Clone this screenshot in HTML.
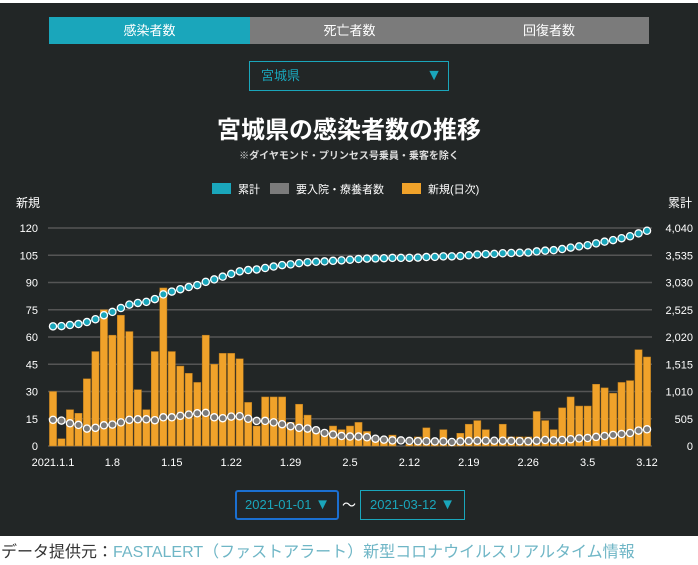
<!DOCTYPE html>
<html><head><meta charset="utf-8">
<style>
body{margin:0;width:698px;height:565px;background:#fff;font-family:"Liberation Sans","Noto Sans CJK JP",sans-serif;overflow:hidden;position:relative}
#panel{position:absolute;left:0;top:3px;width:698px;height:533px;background:#222626}
.tab{position:absolute;top:17px;height:27px;line-height:27px;text-align:center;color:#fff;font-size:13px}
.sel{position:absolute;border:1px solid #1aa6bb;color:#1aa6bb;box-sizing:border-box}
#footer{position:absolute;left:1px;top:538px;font-size:16px;color:#333;white-space:nowrap}
#footer a{color:#6fb6c6;text-decoration:none}
</style></head><body>
<div id="panel"></div>
<div class="tab" style="left:49px;width:201px;background:#1aa6bb">感染者数</div>
<div class="tab" style="left:250px;width:199px;background:#7b7b7b">死亡者数</div>
<div class="tab" style="left:449px;width:200px;background:#7b7b7b">回復者数</div>
<div class="sel" style="left:249px;top:61px;width:200px;height:30px;font-size:13px;line-height:28px;padding-left:11px">宮城県<span style="position:absolute;right:6px;top:0;font-size:16px">▼</span></div>
<div style="position:absolute;left:0;width:698px;top:110px;text-align:center;color:#fff;font-weight:bold;font-size:24px">宮城県の感染者数の推移</div>
<div style="position:absolute;left:0;width:698px;top:147px;text-align:center;color:#ddd;font-weight:bold;font-size:10px">※ダイヤモンド・プリンセス号乗員・乗客を除く</div>
<svg id="chart" width="698" height="480" style="position:absolute;left:0;top:0" font-family="Liberation Sans, Noto Sans CJK JP, sans-serif"></svg>
<div class="sel" style="left:235px;top:490px;width:104px;height:30px;border:2px solid #1b6fd0;border-radius:3px;font-size:13px;line-height:26px;padding-left:8px">2021-01-01 <span style="font-size:15px">▼</span></div>
<div style="position:absolute;left:342px;top:495px;color:#fff;font-size:14px">〜</div>
<div class="sel" style="left:360px;top:490px;width:105px;height:30px;font-size:13px;line-height:28px;padding-left:9px">2021-03-12 <span style="font-size:15px">▼</span></div>
<div id="footer">データ提供元：<a>FASTALERT（ファストアラート）新型コロナウイルスリアルタイム情報</a></div>
<script>
const newCases=[30,4,20,18,37,52,75,61,72,63,31,20,52,87,52,44,40,35,61,45,51,51,48,24,11,27,27,27,13,23,17,8,7,11,9,11,13,8,3,4,6,0,1,5,10,3,9,1,7,12,14,9,3,12,5,5,5,19,14,9,21,27,22,22,34,32,29,35,36,53,49];
const cumBase=2188;
const hospitalized=[485,471,421,391,323,337,384,397,438,485,495,495,478,532,532,559,582,606,613,532,515,545,552,505,465,465,438,404,367,337,323,293,242,212,185,175,175,162,135,118,104,104,94,88,88,85,85,74,85,94,98,98,98,98,94,88,88,98,111,104,111,125,141,148,168,185,205,222,242,286,310];
const leftTicks=[0,15,30,45,60,75,90,105,120];
const rightTicks=["0","505","1,010","1,515","2,020","2,525","3,030","3,535","4,040"];
const xLabels=[[0,"2021.1.1"],[7,"1.8"],[14,"1.15"],[21,"1.22"],[28,"1.29"],[35,"2.5"],[42,"2.12"],[49,"2.19"],[56,"2.26"],[63,"3.5"],[70,"3.12"]];
const svg=document.getElementById('chart');const NS="http://www.w3.org/2000/svg";
function mk(t,a,p){const e=document.createElementNS(NS,t);for(const k in a)e.setAttribute(k,a[k]);(p||svg).appendChild(e);return e;}
const x0=53,dx=8.486,yb=446,yt=228;
const xs=i=>x0+i*dx, yl=v=>yb-(yb-yt)*v/120, yr=v=>yb-(yb-yt)*v/4040;
leftTicks.forEach((v,i)=>{
 const g=mk('line',{x1:48,x2:652,y1:yl(v),y2:yl(v),stroke:'#555',"stroke-width":1.5});
 
 const t=mk('text',{x:38,y:yl(v)+4,fill:'#fff',"font-size":11,"text-anchor":"end"});t.textContent=v;
 
 const r=mk('text',{x:693,y:yl(v)+4,fill:'#fff',"font-size":11,"text-anchor":"end"});r.textContent=rightTicks[i];
 
});
xLabels.forEach(([i,l])=>{const t=mk('text',{x:xs(i),y:466,fill:'#fff',"font-size":11,"text-anchor":"middle"});t.textContent=l;
 });
newCases.forEach((v,i)=>{const b=mk('rect',{x:xs(i)-3.6,y:yl(v),width:7.2,height:yb-yl(v),fill:'#f0a22a',stroke:'#b77a1e',"stroke-width":0.5});
 });
function line(vals,col,name){
 const pts=vals.map((v,i)=>xs(i)+','+yr(v)).join(' ');
 const p=mk('polyline',{points:pts,fill:'none',stroke:col,"stroke-width":1.5});
 vals.forEach((v,i)=>{const c=mk('circle',{cx:xs(i),cy:yr(v),r:3.6,fill:col,stroke:'#fff',"stroke-width":1.3});
  });
}
const cum=[];let s=cumBase;newCases.forEach(v=>{s+=v;cum.push(s);});
line(hospitalized,'#7b7b7b','hospitalized');
line(cum,'#1aa6bb','cumulative');
[['新規',16,'left-axis-title','start'],['累計',692,'right-axis-title','end']].forEach(([l,x,n,a])=>{const t=mk('text',{x:x,y:207,fill:'#fff',"font-size":12,"text-anchor":a});t.textContent=l;
 });
[[212,'#1aa6bb','累計'],[270,'#7b7b7b','要入院・療養者数'],[402,'#f0a22a','新規(日次)']].forEach(([x,c,l])=>{
 const r=mk('rect',{x:x,y:183,width:19,height:11,fill:c});
 const t=mk('text',{x:x+26,y:193,fill:'#fff',"font-size":11});t.textContent=l;});
</script>
</body></html>
